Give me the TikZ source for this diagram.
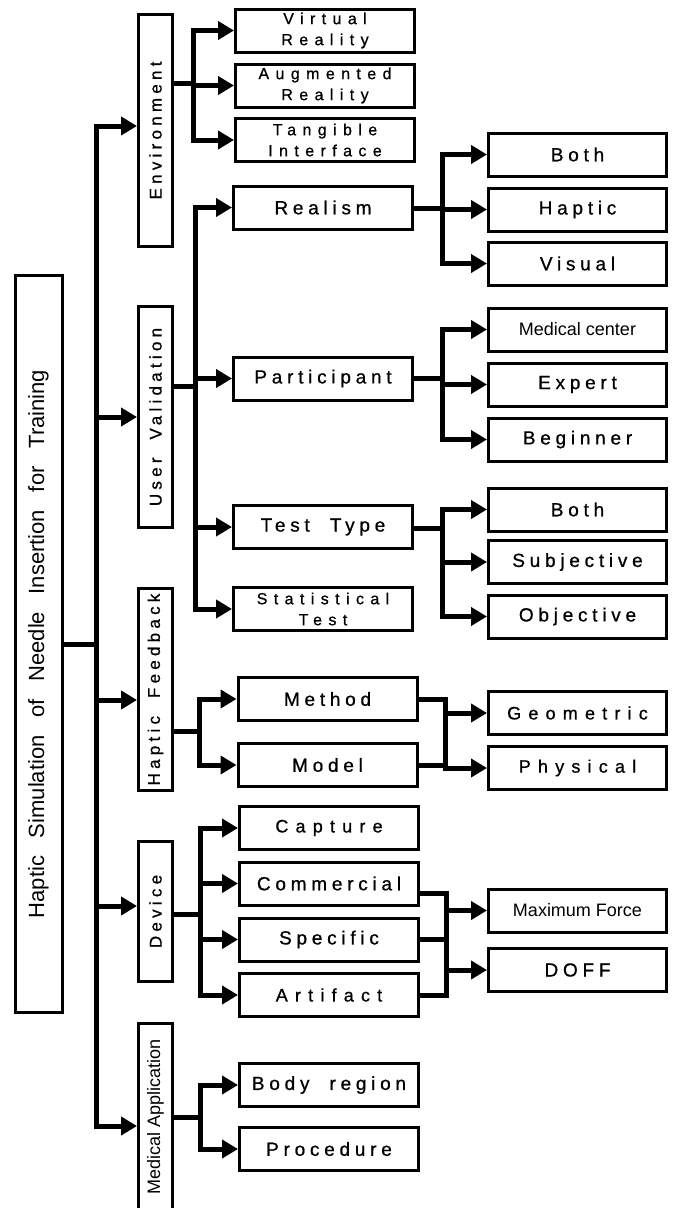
\documentclass[tikz,border=0pt]{standalone}
\usepackage{fontspec}
\usepackage{graphicx}
\setmainfont{Liberation Sans}
\newfontfamily\spaced[LetterSpace=25,WordSpace=2,FakeBold=0.8]{Liberation Sans}
\newfontfamily\spacedwide[LetterSpace=40,WordSpace=2,FakeBold=0.8]{Liberation Sans}
\newfontfamily\rootfont[WordSpace=2.9]{Liberation Sans}
\usetikzlibrary{arrows.meta}
\tikzset{
  tax root/.style={
    rectangle,
    draw,
    line width=3pt,
    inner sep=0pt,
    minimum width=47pt,
    minimum height=737pt,
    font=\rootfont\fontsize{22}{26}\selectfont,
  },
  tax group/.style={
    rectangle,
    draw,
    line width=3pt,
    inner sep=0pt,
    minimum width=34pt,
    font=\spaced\fontsize{17}{20}\selectfont,
  },
  tax item/.style={
    rectangle,
    draw,
    line width=3pt,
    inner sep=0pt,
    minimum width=179pt,
    minimum height=43pt,
    align=center,
    font=\spaced\fontsize{19}{21}\selectfont,
  },
  tax twoline/.style={tax item, font=\spacedwide\fontsize{16}{21}\selectfont},
  tax leaf/.style={tax item, minimum width=178pt},
  tax plain/.style={font=\fontsize{18}{21}\selectfont},
  tax wide/.style={font=\spacedwide\fontsize{18}{21}\selectfont},
  tax bus/.style={line width=5pt, line cap=rect},
  tax arrow/.style={line width=5pt, -{Triangle[length=16pt,width=18pt]}},
}

\begin{document}
\begin{tikzpicture}[x=1pt, y=-1pt]
  \path[use as bounding box, clip] (0,0) rectangle (676,1208);

  % root and first level
  \node[tax root] (root) at (38.5,644) {\rotatebox{90}{Haptic Simulation of Needle Insertion for Training}};

  \node[tax group, minimum height=232pt] (env) at (155.5,130.5) {\rotatebox{90}{Environment}};
  \node[tax group, minimum height=221pt] (uv) at (155.5,417) {\rotatebox{90}{User Validation}};
  \node[tax group, minimum height=202pt] (hf) at (155.5,689.5) {\rotatebox{90}{Haptic Feedback}};
  \node[tax group, minimum height=140pt] (dev) at (155.5,911.5) {\rotatebox{90}{Device}};
  \node[tax group, tax plain, minimum height=187pt] (ma) at (155.5,1117) {\rotatebox{90}{Medical Application}};

  % second level
  \node[tax twoline] (vr) at (325,30.5) {Virtual\\Reality};
  \node[tax twoline] (ar) at (325,85.5) {Augmented\\Reality};
  \node[tax twoline] (ti) at (325,140) {Tangible\\Interface};

  \node[tax item] (realism) at (323,207.5) {Realism};
  \node[tax item] (part) at (323,378.5) {Participant};
  \node[tax item] (testtype) at (323,527) {Test Type};
  \node[tax twoline] (stattest) at (323,609) {Statistical\\Test};

  \node[tax item] (method) at (327.5,699) {Method};
  \node[tax item] (model) at (327.5,765) {Model};

  \node[tax item, tax wide] (capture) at (329,828) {Capture};
  \node[tax item] (commercial) at (329,883.5) {Commercial};
  \node[tax item] (specific) at (329,939.5) {Specific};
  \node[tax item, tax wide] (artifact) at (329,995) {Artifact};

  \node[tax item] (body) at (329,1085) {Body region};
  \node[tax item] (procedure) at (329,1149) {Procedure};

  % third level
  \node[tax leaf] (both1) at (577.5,154.5) {Both};
  \node[tax leaf] (haptic) at (577.5,209.5) {Haptic};
  \node[tax leaf] (visual) at (577.5,263.5) {Visual};

  \node[tax leaf, tax plain] (medctr) at (577.5,329.5) {Medical center};
  \node[tax leaf] (expert) at (577.5,384.5) {Expert};
  \node[tax leaf] (beginner) at (577.5,439.5) {Beginner};

  \node[tax leaf] (both2) at (577.5,509.5) {Both};
  \node[tax leaf] (subjective) at (577.5,562) {Subjective};
  \node[tax leaf] (objective) at (577.5,616.5) {Objective};

  \node[tax leaf, tax wide] (geometric) at (577.5,713) {Geometric};
  \node[tax leaf, tax wide] (physical) at (577.5,768) {Physical};

  \node[tax leaf, tax plain] (maxforce) at (577.5,910.5) {Maximum Force};
  \node[tax leaf] (doff) at (577.5,970) {DOFF};

  % trunk
  \coordinate (trunk) at (96,644);
  \draw[tax bus] (root.east |- trunk) -- (trunk);
  \foreach \g/\y in {env/126, uv/417, hf/700, dev/906, ma/1126} {
    \coordinate (t-\g) at (96,\y);
    \draw[tax arrow] (t-\g) -- (\g.west |- t-\g);
  }
  \draw[tax bus] (t-env) -- (t-ma);

  % forks from the groups
  \coordinate (envfork) at (193,83);
  \draw[tax bus] (env.east |- envfork) -- (envfork);
  \draw[tax bus] (envfork |- vr) -- (envfork |- ti);
  \foreach \c in {vr,ar,ti}
    \draw[tax arrow] (envfork |- \c) -- (\c);

  \coordinate (uvfork) at (195,386);
  \draw[tax bus] (uv.east |- uvfork) -- (uvfork);
  \draw[tax bus] (uvfork |- realism) -- (uvfork |- stattest);
  \foreach \c in {realism,part,testtype,stattest}
    \draw[tax arrow] (uvfork |- \c) -- (\c);

  \coordinate (hffork) at (199,731);
  \draw[tax bus] (hf.east |- hffork) -- (hffork);
  \draw[tax bus] (hffork |- method) -- (hffork |- model);
  \foreach \c in {method,model}
    \draw[tax arrow] (hffork |- \c) -- (\c);

  \coordinate (devfork) at (200,914);
  \draw[tax bus] (dev.east |- devfork) -- (devfork);
  \draw[tax bus] (devfork |- capture) -- (devfork |- artifact);
  \foreach \c in {capture,commercial,specific,artifact}
    \draw[tax arrow] (devfork |- \c) -- (\c);

  \coordinate (mafork) at (200,1117);
  \draw[tax bus] (ma.east |- mafork) -- (mafork);
  \draw[tax bus] (mafork |- body) -- (mafork |- procedure);
  \foreach \c in {body,procedure}
    \draw[tax arrow] (mafork |- \c) -- (\c);

  % forks to the leaves
  \coordinate (realfork) at (442,208);
  \draw[tax bus] (realism.east |- realfork) -- (realfork);
  \draw[tax bus] (realfork |- both1) -- (realfork |- visual);
  \foreach \c in {both1,haptic,visual}
    \draw[tax arrow] (realfork |- \c) -- (\c);

  \coordinate (partfork) at (442,378);
  \draw[tax bus] (part.east |- partfork) -- (partfork);
  \draw[tax bus] (partfork |- medctr) -- (partfork |- beginner);
  \foreach \c in {medctr,expert,beginner}
    \draw[tax arrow] (partfork |- \c) -- (\c);

  \coordinate (testfork) at (442,528);
  \draw[tax bus] (testtype.east |- testfork) -- (testfork);
  \draw[tax bus] (testfork |- both2) -- (testfork |- objective);
  \foreach \c in {both2,subjective,objective}
    \draw[tax arrow] (testfork |- \c) -- (\c);

  % merges
  \coordinate (hfmerge) at (445,699);
  \draw[tax bus] (method.east) -- (hfmerge);
  \draw[tax bus] (model.east) -- (hfmerge |- model);
  \draw[tax bus] (hfmerge) -- (hfmerge |- physical);
  \foreach \c in {geometric,physical}
    \draw[tax arrow] (hfmerge |- \c) -- (\c);

  \coordinate (devmerge) at (446,893);
  \draw[tax bus] (commercial.east |- devmerge) -- (devmerge);
  \draw[tax bus] (specific.east) -- (devmerge |- specific);
  \draw[tax bus] (artifact.east) -- (devmerge |- artifact);
  \draw[tax bus] (devmerge) -- (devmerge |- artifact);
  \foreach \c in {maxforce,doff}
    \draw[tax arrow] (devmerge |- \c) -- (\c);
\end{tikzpicture}
\end{document}
